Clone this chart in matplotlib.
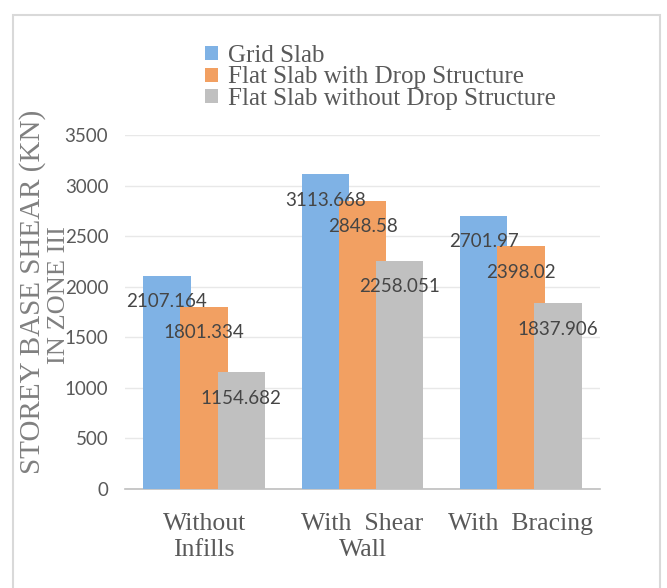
import matplotlib.pyplot as plt
from matplotlib.patches import Rectangle
import numpy as np

# storey base shear per structural system, zone III
categories = ["Without\nInfills", "With  Shear\nWall", "With  Bracing"]
series_names = ["Grid Slab", "Flat Slab with Drop Structure", "Flat Slab without Drop Structure"]
grid_slab = [2107.164, 3113.668, 2701.97]
flat_drop = [1801.334, 2848.58, 2398.02]
flat_no_drop = [1154.682, 2258.051, 1837.906]
value_labels = [["2107.164", "3113.668", "2701.97"],
                ["1801.334", "2848.58", "2398.02"],
                ["1154.682", "2258.051", "1837.906"]]
colors = ["#7fb2e5", "#f2a062", "#c0c0c0"]

W, H = 667, 588
fig = plt.figure(figsize=(W / 100, H / 100), dpi=100)

# light frame round the whole chart
fig.patches.append(Rectangle((13 / W, -0.01), 647 / W, 1 - 15 / H + 0.01,
                             transform=fig.transFigure, fill=False,
                             edgecolor="#d9d9d9", linewidth=1.5))

ax = fig.add_axes([125 / W, 99 / H, 475 / W, 354 / H])

x = np.arange(len(categories))
width = 0.30
step = 0.235
series = [grid_slab, flat_drop, flat_no_drop]
for i, (vals, name, col) in enumerate(zip(series, series_names, colors)):
    pos = x + (i - 1) * step
    ax.bar(pos, vals, width, color=col, label=name, zorder=2 + i)
    for xp, v, lab in zip(pos, vals, value_labels[i]):
        ax.annotate(lab, (xp, v), xytext=(0, -26), textcoords="offset pixels",
                    ha="center", va="center", fontsize=13.5, family="Lato",
                    color="#454545", zorder=10)

ax.set_xlim(-0.5, 2.5)
ax.set_ylim(0, 3500)
ax.set_yticks(np.arange(0, 3501, 500))
ax.yaxis.grid(True, color="#e8e8e8", linewidth=1, zorder=0)
ax.set_axisbelow(True)
for s in ["top", "right", "left"]:
    ax.spines[s].set_visible(False)
ax.spines["bottom"].set_color("#bfbfbf")
ax.spines["bottom"].set_linewidth(1.2)
ax.spines["bottom"].set_zorder(1)

ax.tick_params(axis="y", length=0, pad=12, labelsize=13.5, labelcolor="#595959")
for t in ax.get_yticklabels():
    t.set_family("Lato")
ax.set_xticks(x)
ax.set_xticklabels(categories, family="Liberation Serif", fontsize=18.5,
                   color="#595959", linespacing=1.25)
ax.tick_params(axis="x", length=0, pad=17)

leg = fig.legend(loc="upper left", bbox_to_anchor=(205 / W, 1 - 45 / H),
                 frameon=False, prop={"family": "Liberation Serif", "size": 18},
                 handlelength=0.5, handleheight=0.5, handletextpad=0.4,
                 labelspacing=-0.02, borderpad=0, borderaxespad=0)
for t in leg.get_texts():
    t.set_color("#595959")

fig.text(33 / W, 1 - 292 / H, "STOREY BASE SHEAR (KN)", rotation=90,
         ha="center", va="center", family="Liberation Serif", fontsize=21,
         color="#808080")
fig.text(59 / W, 1 - 295 / H, "IN ZONE III", rotation=90,
         ha="center", va="center", family="Liberation Serif", fontsize=19,
         color="#808080")

fig.savefig("out.png", dpi=100)
